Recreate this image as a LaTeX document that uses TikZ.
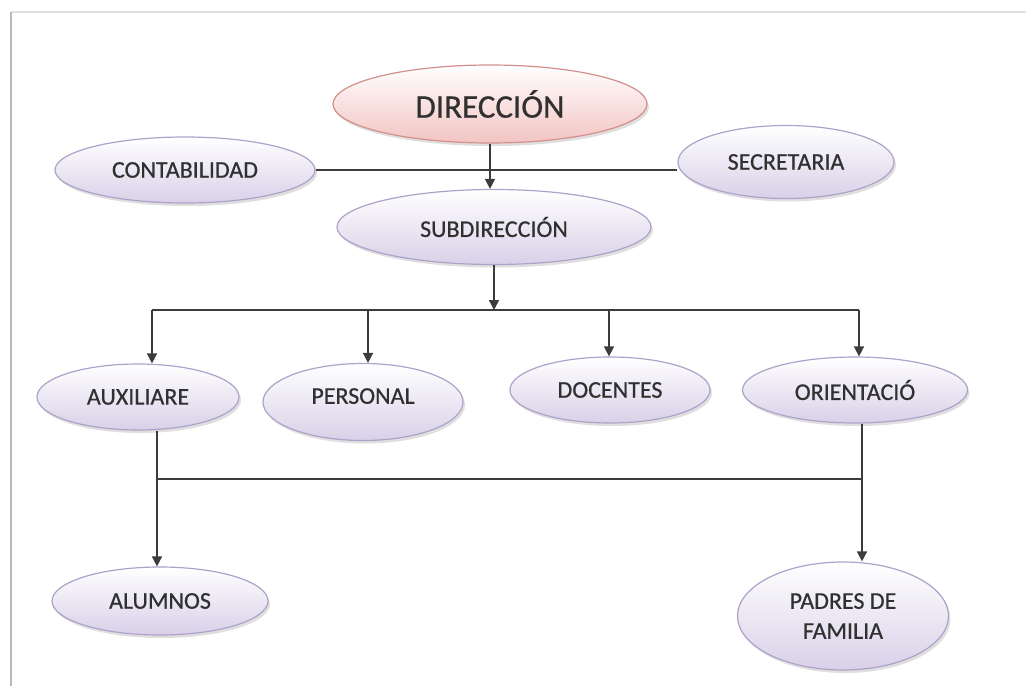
\documentclass[tikz,border=0pt]{standalone}
\usepackage{fontspec}
\setmainfont{Carlito}[FakeBold=0.6]
\usetikzlibrary{arrows.meta,shadows,shapes.geometric}
\definecolor{lavb}{HTML}{D9D0E8}
\definecolor{lavd}{HTML}{ADA2C8}
\definecolor{pinkb}{HTML}{F2C4C2}
\definecolor{pinkd}{HTML}{D38F8C}
\definecolor{txt}{HTML}{303030}
\definecolor{ln}{HTML}{3C3C3C}
\tikzset{
  oval/.style={ellipse, draw=lavd, line width=1.2pt, top color=white, bottom color=lavb,
    inner sep=0pt, text=txt, font=\fontsize{24}{30}\selectfont,
    drop shadow={shadow xshift=2pt, shadow yshift=-3pt, opacity=0.25, fill=gray}},
  toposal/.style={oval, draw=pinkd, bottom color=pinkb, font=\fontsize{33}{38}\selectfont},
  conn/.style={draw=ln, line width=1.5pt},
  arr/.style={conn, -{Triangle[width=10pt,length=10pt]}}
}
\begin{document}
\begin{tikzpicture}[x=1pt,y=-1pt]
\useasboundingbox (0,0) rectangle (1026,686);
% frame
\draw[gray!25, line width=1.5pt] (11,12) -- (1026,12);
\draw[gray!55, line width=2pt] (11,12) -- (11,686);
% nodes
\node[toposal, minimum width=314pt, minimum height=78pt] (dir) at (490,104) {DIRECCIÓN};
\node[oval, minimum width=260pt, minimum height=66pt] (cont) at (185,170) {CONTABILIDAD};
\node[oval, minimum width=216pt, minimum height=73pt] (sec) at (786,162) {SECRETARIA};
\node[oval, minimum width=314pt, minimum height=75pt] (sub) at (494,227) {SUBDIRECCIÓN};
\node[oval, minimum width=202pt, minimum height=66pt] (aux) at (138,397) {AUXILIARE};
\node[oval, minimum width=200pt, minimum height=77pt, text depth=12pt] (per) at (363,402) {PERSONAL};
\node[oval, minimum width=200pt, minimum height=66pt] (doc) at (610,390) {DOCENTES};
\node[oval, minimum width=225pt, minimum height=66pt] (ori) at (855,390) {ORIENTACIÓ};
\node[oval, minimum width=216pt, minimum height=68pt] (alu) at (160,601) {ALUMNOS};
\node[oval, minimum width=211pt, minimum height=108pt, align=center] (pad) at (843,616) {PADRES DE\\FAMILIA};
% connectors
\coordinate (bL) at (152,310);
\coordinate (bR) at (859,310);
\coordinate (bM) at (494,310);
\coordinate (bP) at (368,310);
\coordinate (bD) at (609,310);
\coordinate (lL) at (157,479);
\coordinate (lR) at (862,479);
\draw[conn] (cont.east) -- (sec.west |- cont.east);
\draw[arr] (dir.south) -- (dir.south |- sub.north);
\draw[arr] (sub.south) -- (bM);
\draw[conn] (bL) -- (bR);
\draw[arr] (bL) -- (bL |- aux.north);
\draw[arr] (bP) -- (bP |- per.north);
\draw[arr] (bD) -- (bD |- doc.north);
\draw[arr] (bR) -- (bR |- ori.north);
\draw[conn] (lL |- aux.south) -- (lL);
\draw[conn] (lL) -- (lR);
\draw[arr] (lL) -- (lL |- alu.north);
\draw[conn] (lR |- ori.south) -- (lR);
\draw[arr] (lR) -- (lR |- pad.north);
\end{tikzpicture}
\end{document}
